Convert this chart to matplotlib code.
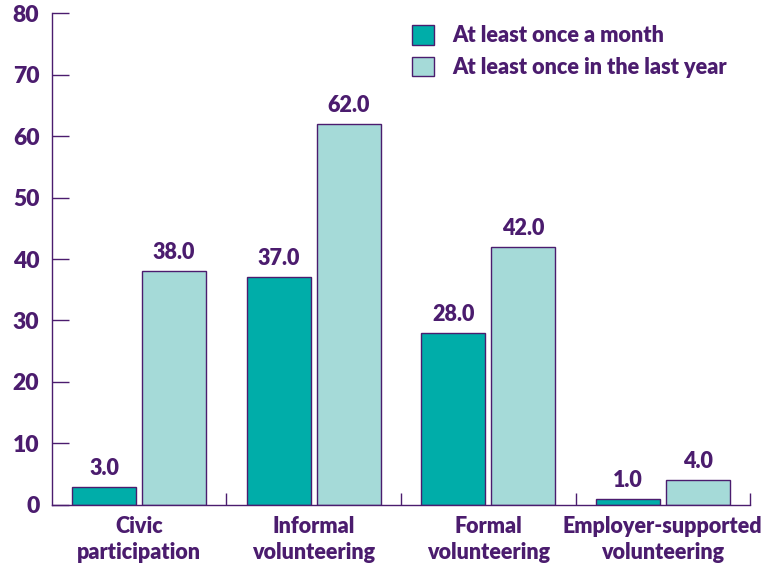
import matplotlib
matplotlib.use("Agg")
import matplotlib.pyplot as plt
import numpy as np

categories = ["Civic\nparticipation", "Informal\nvolunteering", "Formal\nvolunteering",
              "Employer-supported\nvolunteering"]
monthly = [3.0, 37.0, 28.0, 1.0]
yearly = [38.0, 62.0, 42.0, 4.0]
series_names = ["At least once a month", "At least once in the last year"]

PURPLE = "#4B1C6E"
TEAL = "#00ADA9"
LIGHT = "#A5DAD8"
WEIGHT = "heavy"

plt.rcParams["font.family"] = ["Lato", "DejaVu Sans"]

fig = plt.figure(figsize=(7.71, 5.66), dpi=100)
ax = fig.add_axes([0.0674, 0.1078, 0.9054, 0.8692])

x = np.arange(len(categories))
w = 0.367
b1 = ax.bar(x - 0.2, monthly, w, color=TEAL, edgecolor=PURPLE, linewidth=1, label=series_names[0])
b2 = ax.bar(x + 0.2, yearly, w, color=LIGHT, edgecolor=PURPLE, linewidth=1, label=series_names[1])

for bars, vals in ((b1, monthly), (b2, yearly)):
    for rect, v in zip(bars, vals):
        ax.text(rect.get_x() + rect.get_width() / 2, v + 1.3, f"{v:.1f}",
                ha="center", va="bottom", fontsize=15.5, fontweight=WEIGHT, color=PURPLE)

ax.set_xlim(-0.5, 3.5)
ax.set_ylim(0, 80)
ax.set_yticks(range(0, 81, 10))
ax.set_xticks(x)
ax.set_xticklabels(categories, fontsize=15.5, fontweight=WEIGHT, color=PURPLE, linespacing=1.3)
ax.set_xticks([0.5, 1.5, 2.5, 3.5], minor=True)
ax.tick_params(axis="x", which="major", length=0, pad=8)
ax.tick_params(axis="x", which="minor", direction="in", length=8.5, width=1, color=PURPLE)
ax.tick_params(axis="y", direction="in", length=12, width=1, color=PURPLE,
               labelsize=16.5, labelcolor=PURPLE, pad=9)
for lab in ax.get_yticklabels():
    lab.set_fontweight(WEIGHT)

for side in ("top", "right"):
    ax.spines[side].set_visible(False)
for side in ("left", "bottom"):
    ax.spines[side].set_color(PURPLE)
    ax.spines[side].set_linewidth(1)

leg = ax.legend(loc="upper right", bbox_to_anchor=(0.995, 1.015), frameon=False,
                fontsize=15.6, handlelength=1.0, handleheight=1.0, handletextpad=0.85,
                labelspacing=0.5)
for t in leg.get_texts():
    t.set_color(PURPLE)
    t.set_fontweight(WEIGHT)

fig.savefig("out.png", dpi=100)
